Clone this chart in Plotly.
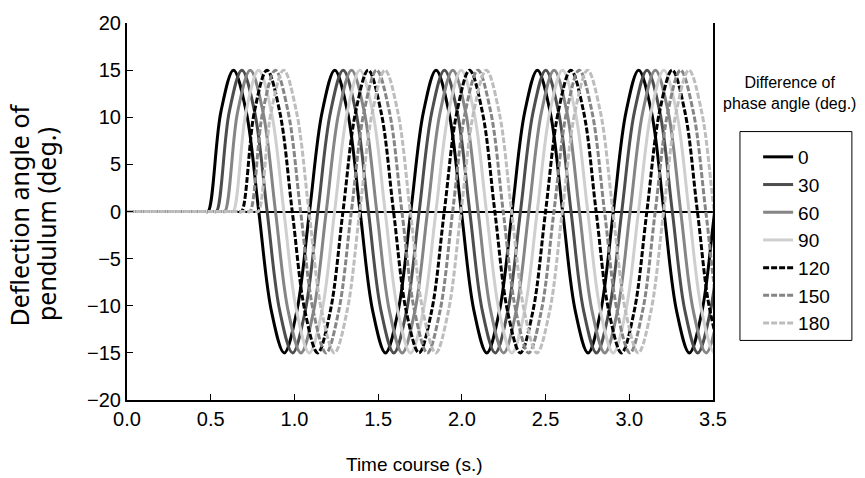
import plotly.graph_objects as go

# ---- data ----
# key points of the 0-degree curve (time in s, deflection in deg.)
BASE_TIME = [0.0, 0.47, 0.485, 0.561, 0.636, 0.712, 0.787, 0.863, 0.939, 1.014,
             1.090, 1.166, 1.241, 1.317, 1.392, 1.468, 1.544, 1.619,
             1.695, 1.771, 1.846, 1.922, 1.997, 2.073, 2.149, 2.224,
             2.300, 2.376, 2.451, 2.527, 2.602, 2.678, 2.754, 2.829,
             2.905, 2.981, 3.056, 3.132, 3.207, 3.283, 3.359, 3.434,
             3.510, 3.586, 3.661, 3.737, 3.812]
BASE_ANGLE = [0, 0, 0, 10.6, 15, 10.6, 0, -10.6, -15, -10.6,
              0, 10.6, 15, 10.6, 0, -10.6, -15, -10.6,
              0, 10.6, 15, 10.6, 0, -10.6, -15, -10.6,
              0, 10.6, 15, 10.6, 0, -10.6, -15, -10.6,
              0, 10.6, 15, 10.6, 0, -10.6, -15, -10.6,
              0, 10.6, 15, 10.6, 0]
PHASE_LABELS = ["0", "30", "60", "90", "120", "150", "180"]
DELAYS = [0.0, 0.05, 0.10, 0.15, 0.20, 0.25, 0.30]   # onset delay of each curve (s)

COLORS = ["#000000", "#4d4d4d", "#858585", "#cfcfcf", "#000000", "#858585", "#bdbdbd"]
DASHES = ["solid", "solid", "solid", "solid", "6px,2px", "6px,2px", "6px,2px"]

FONT = "Liberation Sans, Arial, sans-serif"

fig = go.Figure()
for lab, d, c, ds in zip(PHASE_LABELS, DELAYS, COLORS, DASHES):
    x = [t if i == 0 else t + d for i, t in enumerate(BASE_TIME)]
    fig.add_trace(go.Scatter(
        x=x, y=BASE_ANGLE, mode="lines", name=lab,
        line=dict(color=c, width=3, dash=ds, shape="spline", smoothing=1.0),
    ))

fig.update_layout(
    width=865, height=478,
    margin=dict(l=127, r=152, t=21, b=78),
    paper_bgcolor="white", plot_bgcolor="white",
    font=dict(family=FONT, size=20, color="black"),
    showlegend=True,
    legend=dict(x=1.077, xanchor="left", y=0.695, yanchor="top",
                font=dict(family=FONT, size=19, color="black"),
                entrywidth=50, entrywidthmode="pixels",
                bgcolor="rgba(0,0,0,0)", borderwidth=0, tracegroupgap=0),
)
fig.update_xaxes(
    range=[0, 3.5], dtick=0.5, tickformat=".1f", ticks="inside", ticklen=6,
    tickwidth=1, tickcolor="black", showline=True, linecolor="black", linewidth=2,
    showgrid=False, zeroline=False, tickfont=dict(family=FONT, size=20),
)
fig.update_yaxes(
    range=[-20, 20], dtick=5, ticks="inside", ticklen=6, tickwidth=1,
    tickcolor="black", showline=True, linecolor="black", linewidth=2, mirror=True,
    showgrid=False, zeroline=True, zerolinecolor="black", zerolinewidth=2,
    tickfont=dict(family=FONT, size=20),
)

# legend frame
fig.add_shape(type="rect", xref="paper", yref="paper",
              x0=1.046, x1=1.237, y0=0.158, y1=0.712,
              line=dict(color="black", width=1))

# axis titles and legend title
fig.add_annotation(xref="paper", yref="paper", x=-0.185, y=0.491,
                   text="Deflection angle of", textangle=-90,
                   showarrow=False, xanchor="center", yanchor="middle",
                   font=dict(family="Noto Sans", size=25, color="black"))
fig.add_annotation(xref="paper", yref="paper", x=-0.137, y=0.466,
                   text="pendulum (deg.)", textangle=-90,
                   showarrow=False, xanchor="center", yanchor="middle",
                   font=dict(family="Noto Sans", size=25, color="black"))
fig.add_annotation(xref="paper", yref="paper", x=0.491, y=-0.1715,
                   text="Time course (s.)", showarrow=False,
                   xanchor="center", yanchor="middle",
                   font=dict(family=FONT, size=19, color="black"))
fig.add_annotation(xref="paper", yref="paper", x=1.131, y=0.815,
                   text="Difference of<br>phase angle (deg.)", showarrow=False,
                   xanchor="center", yanchor="middle",
                   font=dict(family=FONT, size=16, color="black"))

fig.write_html("out.html", config={"displayModeBar": False},
               post_script="document.body.style.margin='0';")
